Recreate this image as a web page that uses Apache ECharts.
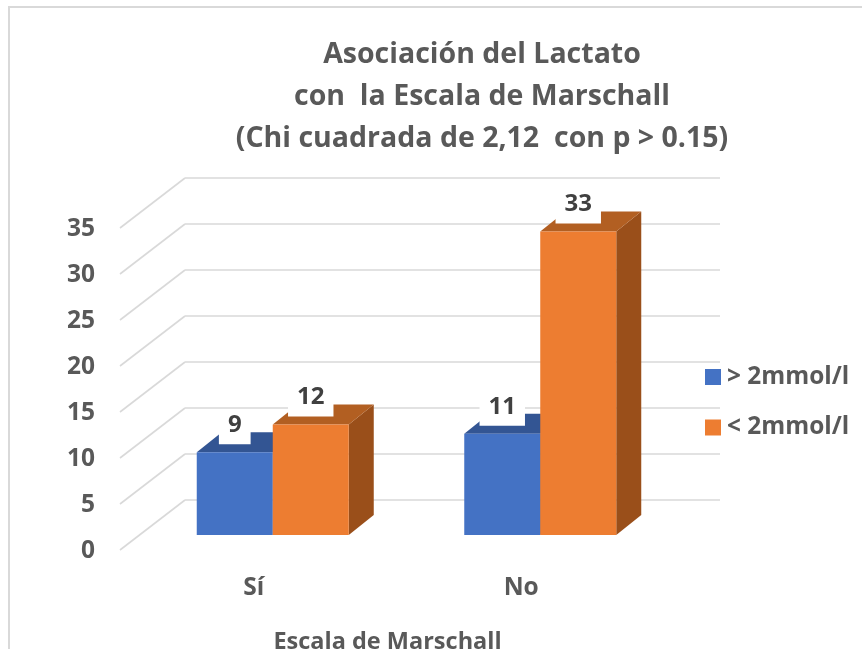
<!DOCTYPE html>
<html><head><meta charset="utf-8">
<style>html,body{margin:0;padding:0;background:#fff}#c{width:862px;height:649px}</style>
<script src="https://cdn.jsdelivr.net/npm/echarts@6/dist/echarts.min.js"></script>
</head><body><div id="c"></div>
<script>
const categories = ['Sí', 'No'];
const seriesNames = ['> 2mmol/l', '< 2mmol/l'];
const highLactate = [9, 11];
const lowLactate = [12, 33];
const yTicks = [0, 5, 10, 15, 20, 25, 30, 35];
const titleText = 'Asociación del Lactato\ncon  la Escala de Marschall\n(Chi cuadrada de 2,12  con p > 0.15)';
const xName = 'Escala de Marschall';

const font = '"Open Sans", sans-serif';
const BAR = 76, FRONT = [-46, 35], BACK = [-21, 15];
const baseFaces = {
  0: {front:'#4472c4', top:'#335593', side:'#2f528f', label:'#404040'},
  1: {front:'#ed7d31', top:'#b25f22', side:'#9a4f1a', label:'#404040'}
};
function barRender(sIdx){
  return function(params, api){
    const i = api.value(0), v = api.value(1);
    const p = api.coord([i, v]), z = api.coord([i, 0]);
    const xl = p[0] + FRONT[0] + (sIdx === 0 ? -BAR : 0);
    const xr = xl + BAR;
    const yt = p[1] + FRONT[1], yb = z[1] + FRONT[1];
    const dx = BACK[0] - FRONT[0], dy = BACK[1] - FRONT[1];
    const c = baseFaces[sIdx];
    return {type:'group', children:[
      {type:'polygon', shape:{points:[[xr,yt],[xr+dx,yt+dy],[xr+dx,yb+dy],[xr,yb]]}, style:{fill:c.side}},
      {type:'polygon', shape:{points:[[xl,yt],[xr,yt],[xr+dx,yt+dy],[xl+dx,yt+dy]]}, style:{fill:c.top}},
      {type:'rect', shape:{x:xl, y:yt, width:BAR, height:yb-yt}, style:{fill:c.front}},
      {type:'text', z2:50, style:{text:String(v), x:xl+BAR/2, y:yt-8, align:'center', verticalAlign:'bottom',
        font:'bold 24px '+font, lineHeight:24, fill:c.label, backgroundColor:'#fff', padding:[4,9,7,9]}}
    ]};
  };
}
function diagRender(params, api){
  const p = api.coord([0, api.value(0)]);
  const x = params.coordSys.x;
  return {type:'line', shape:{x1:x, y1:p[1], x2:x-65, y2:p[1]+50},
    style:{stroke:'#d9d9d9', lineWidth:1.6}};
}
const labelStyle = {color:'#595959', fontFamily:font, fontWeight:'bold', fontSize:24.5};
const chart = echarts.init(document.getElementById('c'), null, {renderer:'canvas'});
chart.setOption({
  animation:false,
  backgroundColor:'#fff',
  title:{text:titleText, left:477, top:29, textAlign:'center',
    textStyle:{color:'#595959', fontFamily:font, fontWeight:'bold', fontSize:28.5, lineHeight:42}},
  legend:{orient:'vertical', left:705, top:365, padding:0, itemWidth:16, itemHeight:16, itemGap:26.5, icon:'rect',
    data:seriesNames, selectedMode:false,
    textStyle:{color:'#595959', fontFamily:font, fontWeight:'bold', fontSize:24.4, lineHeight:24, padding:[0,0,0,1]}},
  grid:[
    {left:185, right:142, top:178, height:322, outerBoundsMode:'none'},
    {left:120, right:207, top:229.5, height:322, outerBoundsMode:'none'}
  ],
  xAxis:[
    {gridIndex:0, type:'category', data:categories, axisLine:{show:false}, axisTick:{show:false}, axisLabel:{show:false}},
    {gridIndex:1, type:'category', data:categories, axisLine:{show:false}, axisTick:{show:false},
      axisLabel:Object.assign({margin:24}, labelStyle),
      name:xName, nameLocation:'middle', nameGap:79, nameTextStyle:Object.assign({}, labelStyle, {fontSize:23.5})}
  ],
  yAxis:[
    {gridIndex:0, type:'value', min:0, max:35, interval:5, axisLabel:{show:false}, axisLine:{show:false}, axisTick:{show:false},
      splitLine:{lineStyle:{color:'#d9d9d9', width:1.6}}},
    {gridIndex:1, type:'value', min:0, max:35, interval:5, axisLine:{show:false}, axisTick:{show:false}, splitLine:{show:false},
      axisLabel:Object.assign({margin:25}, labelStyle)}
  ],
  series:[
    {type:'custom', silent:true, xAxisIndex:0, yAxisIndex:0, data:yTicks.map(t=>[t]), encode:{y:0}, renderItem:diagRender, z:1},
    {type:'custom', name:seriesNames[0], xAxisIndex:0, yAxisIndex:0, itemStyle:{color:baseFaces[0].front},
      data:highLactate.map((v,i)=>[i,v]), encode:{x:0,y:1}, renderItem:barRender(0), z:2},
    {type:'custom', name:seriesNames[1], xAxisIndex:0, yAxisIndex:0, itemStyle:{color:baseFaces[1].front},
      data:lowLactate.map((v,i)=>[i,v]), encode:{x:0,y:1}, renderItem:barRender(1), z:3}
  ],
  graphic:[{type:'rect', z:-1, shape:{x:9, y:7, width:900, height:700}, style:{fill:'#fff', stroke:'#d9d9d9', lineWidth:2}}]
});
</script></body></html>
